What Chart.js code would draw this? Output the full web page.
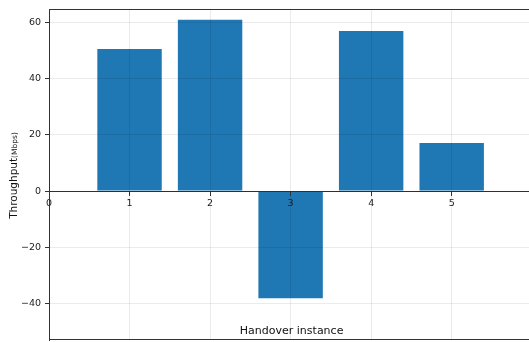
<!DOCTYPE html>
<html>
<head>
<meta charset="utf-8">
<script src="https://cdn.jsdelivr.net/npm/chart.js@4"></script>
<style>
  html, body { margin: 0; padding: 0; background: #fff; }
  canvas { display: block; }
</style>
</head>
<body>
<canvas id="c" width="529" height="342"></canvas>
<script>
// Throughput change per handover instance
const instances = [1, 2, 3, 4, 5];
const throughput = [50.6, 61.1, -38.2, 57.1, 17.1];
const xTickValues = [0, 1, 2, 3, 4, 5];
const yTickValues = [-40, -20, 0, 20, 40, 60];
const xLabel = 'Handover instance';
const yLabelMain = 'Throughput';
const yLabelUnit = '(Mbps)';

const FONT = "'DejaVu Sans', sans-serif";
const fmt = v => (v < 0 ? '\u2212' + Math.abs(v) : String(v));

// Top/bottom frame lines and the axis titles (mixed-size y title)
const frame = {
  id: 'frame',
  afterDraw(chart) {
    const { ctx, chartArea: a } = chart;
    ctx.save();
    ctx.strokeStyle = '#333';
    ctx.lineWidth = 1;
    ctx.beginPath();
    ctx.moveTo(a.left, a.top + 0.5);
    ctx.lineTo(a.right, a.top + 0.5);
    ctx.moveTo(a.left, a.bottom - 0.5);
    ctx.lineTo(a.right, a.bottom - 0.5);
    ctx.stroke();

    ctx.fillStyle = '#111';
    ctx.font = `11px ${FONT}`;
    ctx.textAlign = 'center';
    ctx.textBaseline = 'alphabetic';
    ctx.fillText(xLabel, chart.scales.x.getPixelForValue(3) + 1, 334);

    ctx.translate(17, 175.5);
    ctx.rotate(-Math.PI / 2);
    ctx.textAlign = 'left';
    ctx.font = `10.5px ${FONT}`;
    const w1 = ctx.measureText(yLabelMain).width;
    ctx.font = `7.5px ${FONT}`;
    const w2 = ctx.measureText(yLabelUnit).width;
    const start = -(w1 + w2) / 2;
    ctx.font = `10.5px ${FONT}`;
    ctx.fillText(yLabelMain, start, 0);
    ctx.font = `7.5px ${FONT}`;
    ctx.fillText(yLabelUnit, start + w1, 0);
    ctx.restore();
  }
};

new Chart(document.getElementById('c'), {
  type: 'bar',
  data: {
    datasets: [{
      data: instances.map((x, i) => ({ x, y: throughput[i] })),
      backgroundColor: '#1f77b4',
      borderWidth: 0,
      barPercentage: 0.8,
      categoryPercentage: 1
    }]
  },
  options: {
    responsive: false,
    animation: false,
    devicePixelRatio: 1,
    layout: { padding: { top: 9, bottom: 2, left: 0, right: 0 } },
    plugins: { legend: { display: false }, tooltip: { enabled: false } },
    scales: {
      x: {
        type: 'linear',
        position: { y: 0 },
        min: 0,
        max: 5.96,
        offset: false,
        afterFit: s => { s.height = 0; s.paddingLeft = 0; s.paddingRight = 0; },
        afterBuildTicks: s => { s.ticks = xTickValues.map(v => ({ value: v })); },
        grid: { z: 1, offset: false, color: 'rgba(0,0,0,0.08)', tickColor: '#333', tickLength: 4 },
        border: { z: 1, color: '#333', width: 1 },
        ticks: { z: 1, color: '#1a1a1a', font: { family: FONT, size: 9.5 }, padding: 3, maxRotation: 0, autoSkip: false, callback: v => fmt(v) }
      },
      y: {
        min: -53.1,
        max: 64.9,
        afterFit: s => { s.width = 49; s.paddingTop = 0; s.paddingBottom = 0; },
        afterBuildTicks: s => { s.ticks = yTickValues.map(v => ({ value: v })); },
        grid: { z: 1, color: 'rgba(0,0,0,0.08)', tickColor: '#333', tickLength: 4 },
        border: { z: 1, color: '#333', width: 1 },
        ticks: { z: 1, color: '#1a1a1a', font: { family: FONT, size: 9.5 }, padding: 4, callback: v => fmt(v) }
      }
    }
  },
  plugins: [frame]
});
</script>
</body>
</html>
